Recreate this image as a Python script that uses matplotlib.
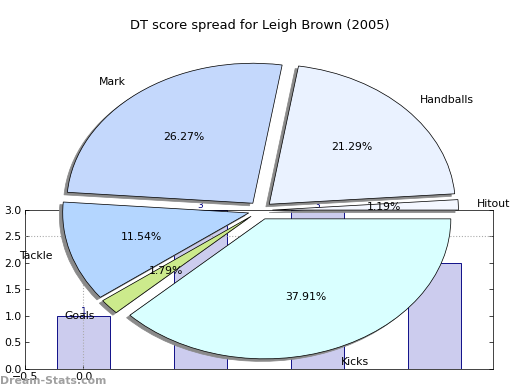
import matplotlib
matplotlib.use('Agg')
import matplotlib.pyplot as plt

# pie data (DT score share by stat)
labels = ['Hitout', 'Handballs', 'Mark', 'Tackle', 'Goals', 'Kicks']
shares = [1.19, 21.29, 26.27, 11.54, 1.79, 37.91]
colours = ['#f4f7ff', '#eaf2ff', '#c4d8fc', '#b4d6ff', '#ccea8c', '#d9ffff']

# bar chart sitting behind the pie
bar_pos = [0, 1, 2, 3]
bar_values = [1, 3, 3, 2]

fig = plt.figure(figsize=(8, 6), dpi=65)

# background bar chart
ax = fig.add_axes([0.048, 0.054, 0.9, 0.408])
bars = ax.bar(bar_pos, bar_values, width=0.45, color='#ccccee', edgecolor='#000080', linewidth=1)
for b, v in zip(bars, bar_values):
    ax.text(b.get_x() + b.get_width() / 2, v, str(v), ha='center', va='bottom',
            color='#000080', fontsize=10)
ax.set_xlim(-0.5, 3.5)
ax.set_ylim(0, 3)
ax.set_xticks([-0.5, 0.0])
ax.set_yticks([0, 0.5, 1.0, 1.5, 2.0, 2.5, 3.0])
ax.set_yticklabels(['0.0', '0.5', '1.0', '1.5', '2.0', '2.5', '3.0'])
ax.set_xticklabels(['\u22120.5', '0.0'])
ax.tick_params(direction='in', top=True, right=True, labelsize=12, length=4)
ax.axhline(2.5, color='#aaaaaa', linestyle=':', linewidth=1.2, zorder=3)
ax.axvline(0, color='#aaaaaa', linestyle=':', linewidth=1.2, zorder=3)

# pie on top, stretched into an ellipse
ax2 = fig.add_axes([0, 0, 1, 1])
ax2.pie(shares, labels=labels, colors=colours, autopct='%1.2f%%', startangle=0,
        explode=[0.065] * len(shares),
        shadow={'ox': -0.02, 'oy': -0.02, 'facecolor': '#8a8a8a', 'edgecolor': '#8a8a8a', 'alpha': 1},
        wedgeprops={'edgecolor': 'black', 'linewidth': 0.8},
        textprops={'fontsize': 12})
ax2.set_aspect('auto')
ax2.set_xlim(-1.3995, 1.396)
ax2.set_ylim(-1.283, 1.503)
ax2.axis('off')

fig.text(0.5, 1 - 25 / 390, 'DT score spread for Leigh Brown (2005)', ha='center', va='center', fontsize=14.4)
fig.text(0.0, 9 / 390, 'Dream-Stats.com', ha='left', va='center', fontsize=12,
         fontweight='bold', color='#a0a0a0')

fig.savefig('out.png', dpi=65)
